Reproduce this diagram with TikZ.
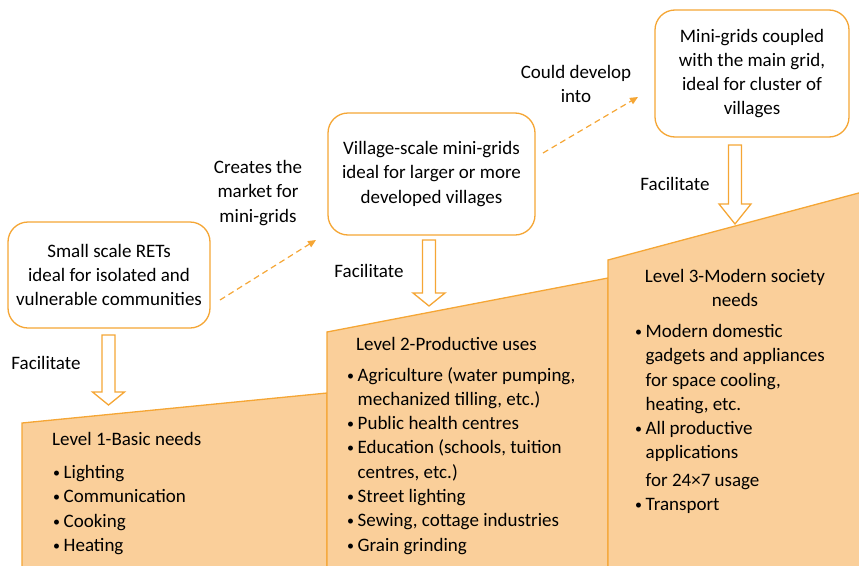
\documentclass[tikz,border=0pt]{standalone}
\usepackage{fontspec}
\setmainfont{Carlito}
\usetikzlibrary{arrows.meta}
\definecolor{lvlfill}{RGB}{250,207,154}
\definecolor{lvlline}{RGB}{245,166,53}
\newcommand{\lvbul}{\makebox[10.5pt][l]{\raisebox{1pt}{\fontsize{14}{14}\selectfont\textbullet}}}
\newcommand{\lvind}{\hspace*{10.5pt}}

\begin{document}
\begin{tikzpicture}[x=1pt,y=-1pt,
    font=\fontsize{19}{24.3}\selectfont,
    rbox/.style={draw=lvlline, line width=1.3pt, rounded corners=20pt, fill=white, align=center, inner sep=0pt},
    level/.style={draw=lvlline, line width=1.3pt, fill=lvlfill},
    dasharr/.style={draw=lvlline, line width=1.2pt, dash pattern=on 6pt off 4pt, -{Triangle[length=8pt,width=7pt]}},
    facarr/.style={draw=lvlline, line width=1.3pt, fill=white, line join=miter},
    lbl/.style={align=center, inner sep=0pt},
    lst/.style={align=left, anchor=north west, inner sep=0pt}
]
\useasboundingbox (0,0) rectangle (859,565);
\clip (0,0) rectangle (859,565);

% the three levels of needs
\draw[level] (22,423) -- (327,393) -- (327,580) -- (22,580) -- cycle;
\draw[level] (327,332) -- (608,278) -- (608,580) -- (327,580) -- cycle;
\draw[level] (608,260) -- (870,190) -- (870,580) -- (608,580) -- cycle;

\node[anchor=base west, inner sep=0pt] (lv1) at (52,445) {Level 1-Basic needs};
\node[lst] (lv1list) at (53,465) {\lvbul Lighting\\\lvbul Communication\\\lvbul Cooking\\\lvbul Heating};

\node[anchor=base west, inner sep=0pt] (lv2) at (356,350) {Level 2-Productive uses};
\node[lst] (lv2list) at (347,367) {\lvbul Agriculture (water pumping,\\\lvind mechanized tilling, etc.)\\\lvbul Public health centres\\\lvbul Education (schools, tuition\\\lvind centres, etc.)\\\lvbul Street lighting\\\lvbul Sewing, cottage industries\\\lvbul Grain grinding};

\node[lbl, anchor=north] (lv3) at (735,269) {Level 3-Modern society\\needs};
\node[lst] (lv3list) at (635,324) {\lvbul Modern domestic\\\lvind gadgets and appliances\\\lvind for space cooling,\\\lvind heating, etc.\\\lvbul All productive\\\lvind applications\\[3pt]\lvind for 24×7 usage\\\lvbul Transport};

% options
\node[rbox, minimum width=202pt, minimum height=106pt] (rets) at (109,275) {Small scale RETs\\ideal for isolated and\\vulnerable communities};
\node[rbox, minimum width=207pt, minimum height=122pt] (village) at (431.5,174) {Village-scale mini-grids\\ideal for larger or more\\developed villages};
\node[rbox, minimum width=194pt, minimum height=127pt] (maingrid) at (752,73.5) {Mini-grids coupled\\with the main grid,\\ideal for cluster of\\villages};

\node[lbl] (creates) at (258,193) {Creates the\\market for\\mini-grids};
\node[lbl] (develop) at (576,84) {Could develop\\into};

\coordinate (d1s) at (220,300);
\coordinate (d1e) at (316,240);
\coordinate (d2s) at (543,153);
\coordinate (d2e) at (638,97);
\draw[dasharr] (d1s) -- (d1e);
\draw[dasharr] (d2s) -- (d2e);

% facilitate arrows
\foreach \fx/\ft/\fh/\fe in {108.5/335/392/405, 429/240/293/306, 735/145/204/224}
  \draw[facarr] (\fx-6.5,\ft) -- (\fx-6.5,\fh) -- (\fx-16,\fh) -- (\fx,\fe) -- (\fx+16,\fh) -- (\fx+6.5,\fh) -- (\fx+6.5,\ft) -- cycle;

\node[lbl] (fac1) at (46,363) {Facilitate};
\node[lbl] (fac2) at (369,271) {Facilitate};
\node[lbl] (fac3) at (675,184) {Facilitate};
\end{tikzpicture}
\end{document}
